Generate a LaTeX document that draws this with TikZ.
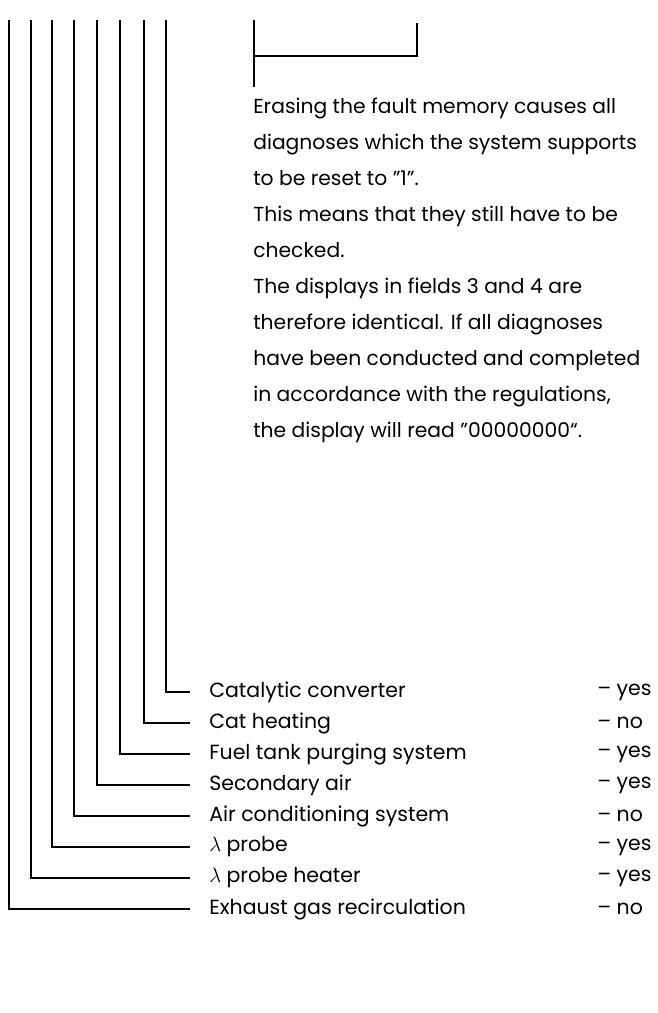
\documentclass[tikz,border=0pt]{standalone}
\usepackage{fontspec}
\setmainfont{Poppins}
\begin{document}
\begin{tikzpicture}[x=1pt,y=-1pt,line width=2.6pt,
  lab/.style={anchor=west,inner xsep=18pt,inner ysep=0pt,font=\fontsize{20.5}{22}\selectfont},
  val/.style={anchor=west,inner sep=0pt,font=\fontsize{20.5}{22}\selectfont},
  note/.style={anchor=north west,inner sep=0pt,align=left,font=\fontsize{20.3}{36}\selectfont}]
\useasboundingbox (0,0) rectangle (658,1013);
% vertical line tops
\foreach \i/\x in {1/166,2/144,3/120,4/97,5/74,6/52,7/31,8/9}{
  \coordinate (t\i) at (\x,20);
}
\node[lab] (l1) at (190,692) {Catalytic converter};
\node[lab] (l2) at (190,723) {Cat heating};
\node[lab] (l3) at (190,754) {Fuel tank purging system};
\node[lab] (l4) at (190,785) {Secondary air};
\node[lab] (l5) at (190,816) {Air conditioning system};
\node[lab] (l6) at (190,847) {$\lambda$ probe};
\node[lab] (l7) at (190,878) {$\lambda$ probe heater};
\node[lab] (l8) at (190,909) {Exhaust gas recirculation};
\node[val] (v1) at (596,692) {– yes};
\node[val] (v2) at (596,723) {– no};
\node[val] (v3) at (596,754) {– yes};
\node[val] (v4) at (596,785) {– yes};
\node[val] (v5) at (596,816) {– no};
\node[val] (v6) at (596,847) {– yes};
\node[val] (v7) at (596,878) {– yes};
\node[val] (v8) at (596,909) {– no};
\foreach \i in {1,...,8}{\draw (t\i) |- (l\i.west);}
% bracket
\coordinate (ba) at (254,20);
\coordinate (bb) at (254,87);
\coordinate (bm) at (254,56);
\coordinate (bc) at (417,23);
\draw (ba) -- (bb);
\draw (bm) -| (bc);
\node[note] (n) at (252,97) {Erasing the fault memory causes all\\
diagnoses which the system supports\\
to be reset to \symbol{34}1\symbol{34}.\\
This means that they still have to be\\
checked.\\
The displays in fields 3 and 4 are\\
therefore identical. If all diagnoses\\
have been conducted and completed\\
in accordance with the regulations,\\
the display will read \symbol{34}00000000“.};
\end{tikzpicture}
\end{document}
